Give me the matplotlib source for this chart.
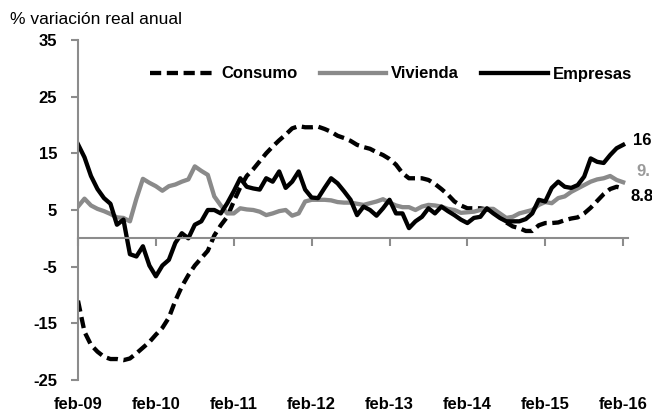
import matplotlib
matplotlib.use("Agg")
import matplotlib.pyplot as plt
import numpy as np

plt.rcParams['font.family'] = ['Liberation Sans', 'DejaVu Sans']

months = np.arange(85)  # feb-09 .. feb-16
tick_months = [0, 12, 24, 36, 48, 60, 72, 84]
tick_labels = ['feb-09', 'feb-10', 'feb-11', 'feb-12', 'feb-13', 'feb-14', 'feb-15', 'feb-16']
y_ticks = [-25, -15, -5, 5, 15, 25, 35]

consumo = [-11.0, -16.5, -18.8, -20.0, -20.9, -21.3, -21.3, -21.5, -21.2, -20.3,
           -19.3, -18.3, -17.0, -15.8, -14.0, -11.0, -8.5, -6.5, -4.8, -3.5,
           -2.2, 0.5, 2.3, 3.8, 6.5, 9.0, 11.0, 12.2, 13.6, 15.0,
           16.2, 17.3, 18.3, 19.4, 19.8, 19.6, 19.6, 19.7, 19.3, 18.8,
           18.1, 17.7, 17.2, 16.5, 16.1, 15.8, 15.2, 14.7, 14.0, 13.0,
           11.5, 10.6, 10.6, 10.6, 10.3, 9.6, 8.7, 7.7, 6.5, 5.8,
           5.3, 5.3, 5.3, 5.1, 5.0, 3.8, 2.8, 2.1, 1.8, 1.3,
           1.3, 2.3, 2.7, 2.7, 2.8, 3.2, 3.5, 3.7, 4.4, 5.4,
           6.6, 7.8, 8.7, 9.1, 8.8]

vivienda = [5.6, 7.0, 5.8, 5.2, 4.8, 4.3, 3.7, 3.6, 3.0, 7.0,
            10.5, 9.8, 9.2, 8.4, 9.2, 9.5, 10.0, 10.4, 12.7, 11.9,
            11.2, 7.4, 5.8, 4.4, 4.4, 5.3, 5.1, 5.0, 4.7, 4.1,
            4.4, 4.8, 5.0, 4.0, 4.4, 6.5, 6.8, 6.8, 6.8, 6.7,
            6.4, 6.3, 6.3, 6.1, 5.9, 6.2, 6.5, 6.9, 6.3, 5.8,
            5.5, 5.5, 5.0, 5.6, 5.9, 5.8, 5.6, 5.2, 5.0, 4.5,
            4.6, 4.7, 5.0, 5.2, 5.2, 4.4, 3.6, 3.8, 4.4, 4.7,
            5.0, 5.9, 6.4, 6.2, 7.1, 7.4, 8.2, 8.8, 9.4, 10.0,
            10.4, 10.6, 11.0, 10.3, 9.9]

empresas = [16.6, 14.3, 11.0, 8.7, 7.1, 6.1, 2.4, 3.3, -2.8, -3.2,
            -1.4, -4.8, -6.7, -4.8, -3.8, -0.8, 0.9, 0.0, 2.4, 3.0,
            5.0, 5.0, 4.4, 6.2, 8.3, 10.6, 9.1, 8.8, 8.6, 10.6,
            10.0, 11.8, 8.9, 10.0, 11.8, 8.6, 7.2, 7.1, 8.9, 10.6,
            9.7, 8.3, 6.8, 4.1, 5.6, 5.0, 4.0, 5.3, 6.8, 4.4,
            4.4, 1.8, 3.0, 3.8, 5.3, 4.4, 5.6, 4.8, 4.1, 3.3,
            2.7, 3.6, 3.8, 5.3, 4.4, 3.6, 3.0, 3.0, 3.0, 3.4,
            4.4, 6.8, 6.5, 8.9, 10.0, 9.1, 8.9, 9.4, 10.9, 14.1,
            13.5, 13.3, 14.7, 15.9, 16.5]

# end-of-series labels as visible in the reference (right edge cuts them)
end_labels = {'Consumo': '8.8', 'Vivienda': '9.', 'Empresas': '16'}

axis_gray = '#8c8c8c'
viv_gray = '#8a8a8a'

fig = plt.figure(figsize=(6.52, 4.19), dpi=100)
ax = fig.add_axes([78/652, 39/419, 550/652, 340/419])

ax.plot(months, consumo, color='black', lw=3.1, dashes=(2.6, 1.3), label='Consumo')
ax.plot(months, vivienda, color=viv_gray, lw=3.1, label='Vivienda')
ax.plot(months, empresas, color='black', lw=3.1, label='Empresas')

ax.set_ylim(-25, 35)
ax.set_xlim(0, 84.75)
ax.set_yticks(y_ticks)
ax.set_yticklabels([str(v) for v in y_ticks], fontsize=12, fontweight='bold')
ax.tick_params(axis='y', length=5, width=1.5, color=axis_gray, pad=10)

for s in ['top', 'right']:
    ax.spines[s].set_visible(False)
ax.spines['left'].set_color(axis_gray)
ax.spines['left'].set_linewidth(1.5)
ax.spines['bottom'].set_position(('data', 0))
ax.spines['bottom'].set_color(axis_gray)
ax.spines['bottom'].set_linewidth(1.5)
ax.set_xticks(tick_months)
ax.tick_params(axis='x', length=6, width=1.5, color=axis_gray, labelbottom=False)

sec = ax.secondary_xaxis('bottom')
sec.set_xticks(tick_months)
sec.set_xticklabels(tick_labels, fontsize=12, fontweight='bold')
sec.tick_params(length=0, pad=12)
sec.spines['bottom'].set_visible(False)

# end labels
ax.annotate(end_labels['Empresas'], (months[-1], empresas[-1]), xytext=(7, 3),
            textcoords='offset points', fontsize=12, fontweight='bold', color='black',
            va='center', ha='left', annotation_clip=False)
ax.annotate(end_labels['Vivienda'], (months[-1], vivienda[-1]), xytext=(9.5, 8),
            textcoords='offset points', fontsize=12, fontweight='bold', color='#9a9a9a',
            va='center', ha='left', annotation_clip=False)
ax.annotate(end_labels['Consumo'], (months[-1], consumo[-1]), xytext=(5, -6),
            textcoords='offset points', fontsize=12, fontweight='bold', color='black',
            va='center', ha='left', annotation_clip=False)

leg = ax.legend(loc='center', bbox_to_anchor=(0.569, 0.9), ncol=3, frameon=False,
                handlelength=4.0, handletextpad=0.3, columnspacing=1.3,
                prop={'weight': 'bold', 'size': 12})

fig.text(10/652, 1 - 20/419, '% variación real anual', fontsize=12.5, va='center', ha='left')

fig.savefig('out.png', dpi=100)
